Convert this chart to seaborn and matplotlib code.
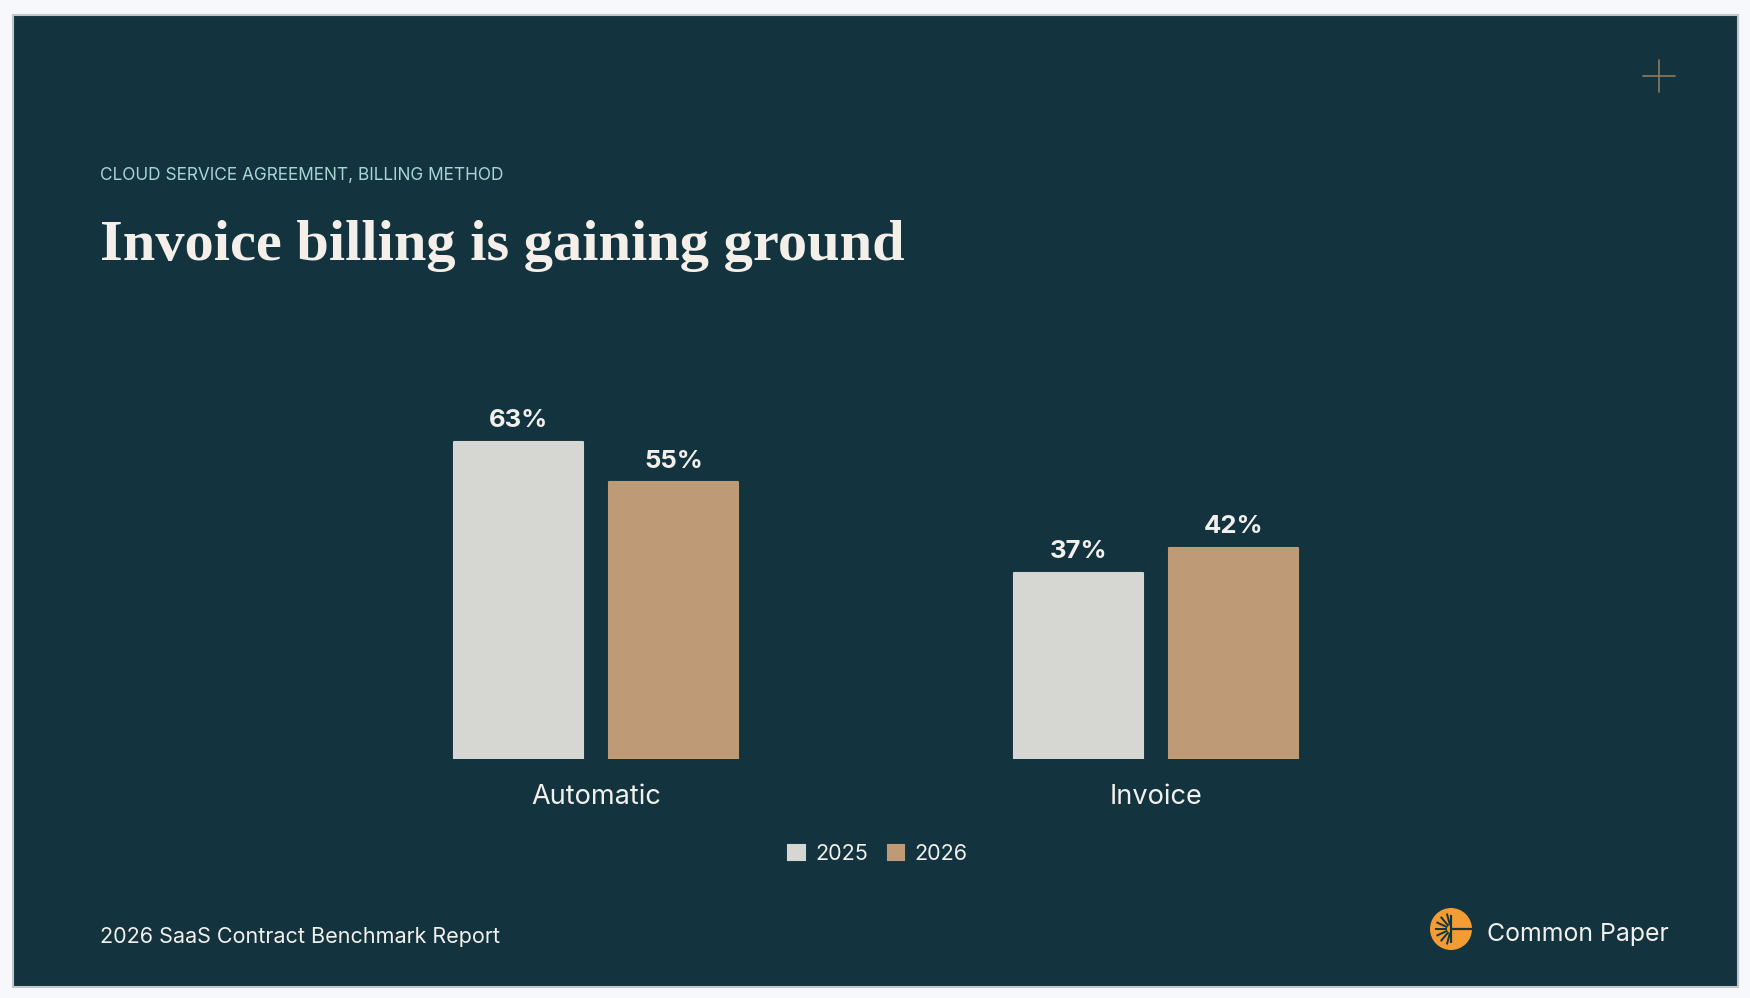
import numpy as np
import pandas as pd
import seaborn as sns
import matplotlib.pyplot as plt
from matplotlib.patches import Rectangle, Circle

categories = ['Automatic', 'Invoice']
years = ['2025', '2026']
share_2025 = [63, 37]
share_2026 = [55, 42]

BG = '#13343f'
C25 = '#d6d6d3'
C26 = '#bf9a76'
TXT = '#f2f0ec'

df = pd.DataFrame({
    'method': categories * 2,
    'year': [years[0]] * 2 + [years[1]] * 2,
    'share': share_2025 + share_2026,
})

sns.set_style('white')
plt.rcParams['font.family'] = ['Inter', 'DejaVu Sans']

W, H = 1750, 998
fig = plt.figure(figsize=(W / 100, H / 100), dpi=100, facecolor='#f6f8fc')

# background card + decorations in pixel coordinates
deco = fig.add_axes([0, 0, 1, 1], zorder=0)
deco.set_xlim(0, W)
deco.set_ylim(H, 0)
deco.axis('off')
deco.add_patch(Rectangle((13, 15), 1725, 972, facecolor=BG, edgecolor='#c4c7ca', lw=1.5))
deco.plot([1643, 1675], [76, 76], color='#8c7a62', lw=1.2)
deco.plot([1659, 1659], [60, 92], color='#8c7a62', lw=1.2)

# logo
cx, cy, r = 1451, 929, 21
deco.add_patch(Circle((cx, cy), r, facecolor='#f39c33', edgecolor='none'))
deco.plot([cx, cx + r], [cy, cy], color=BG, lw=1.6, solid_capstyle='butt')
deco.plot([cx, cx], [cy - 14, cy + 14], color=BG, lw=1.6, solid_capstyle='butt')
for ang in [105, 130, 155, 180, 205, 230, 255]:
    a = np.deg2rad(ang)
    deco.plot([cx + 4 * np.cos(a), cx + 16 * np.cos(a)],
              [cy - 4 * np.sin(a), cy - 16 * np.sin(a)],
              color=BG, lw=1.4, solid_capstyle='butt')
deco.text(1487, 935, 'Common Paper', color=TXT, fontsize=17.9, va='center', ha='left')

deco.text(100, 175, 'CLOUD SERVICE AGREEMENT, BILLING METHOD', color='#a9d6d5',
          fontsize=12.45, va='center', ha='left')
deco.text(100, 260, 'Invoice billing is gaining ground', color='#f5efe9',
          fontsize=42, fontweight='bold', family='Liberation Serif',
          va='baseline', ha='left')
deco.text(100, 937, '2026 SaaS Contract Benchmark Report', color=TXT,
          fontsize=15.5, va='center', ha='left')

# chart
ax = fig.add_axes([316 / W, 1 - 759 / H, 1120 / W, 352 / H], zorder=1)
ax.patch.set_visible(False)
sns.barplot(data=df, x='method', y='share', hue='year', hue_order=years,
            palette=[C25, C26], saturation=1, width=0.5536, gap=0.168, ax=ax)
for bar in ax.patches:
    bar.set_edgecolor(bar.get_facecolor())
    bar.set_linewidth(1.5)
    bar.set_joinstyle('round')
for cont in ax.containers:
    ax.bar_label(cont, fmt='{:.0f}%', padding=7, color=TXT, fontsize=18.5,
                 fontweight='bold')
ax.set_xlim(-0.5, 1.5)
ax.set_ylim(0, 70)
ax.set_yticks([])
ax.set_xlabel('')
ax.set_ylabel('')
sns.despine(ax=ax, left=True, bottom=True)
ax.tick_params(axis='x', length=0, pad=18, labelsize=19.5, labelcolor=TXT)

handles, labels = ax.get_legend_handles_labels()
ax.legend(handles, labels, loc='center', bbox_to_anchor=(878 / W, 1 - 854 / H),
          bbox_transform=fig.transFigure, ncol=2, frameon=False, fontsize=15.5,
          handlelength=0.75, handleheight=0.75, handletextpad=0.5,
          columnspacing=0.9, labelcolor=TXT)

fig.savefig('out.png', dpi=100, facecolor=fig.get_facecolor())
